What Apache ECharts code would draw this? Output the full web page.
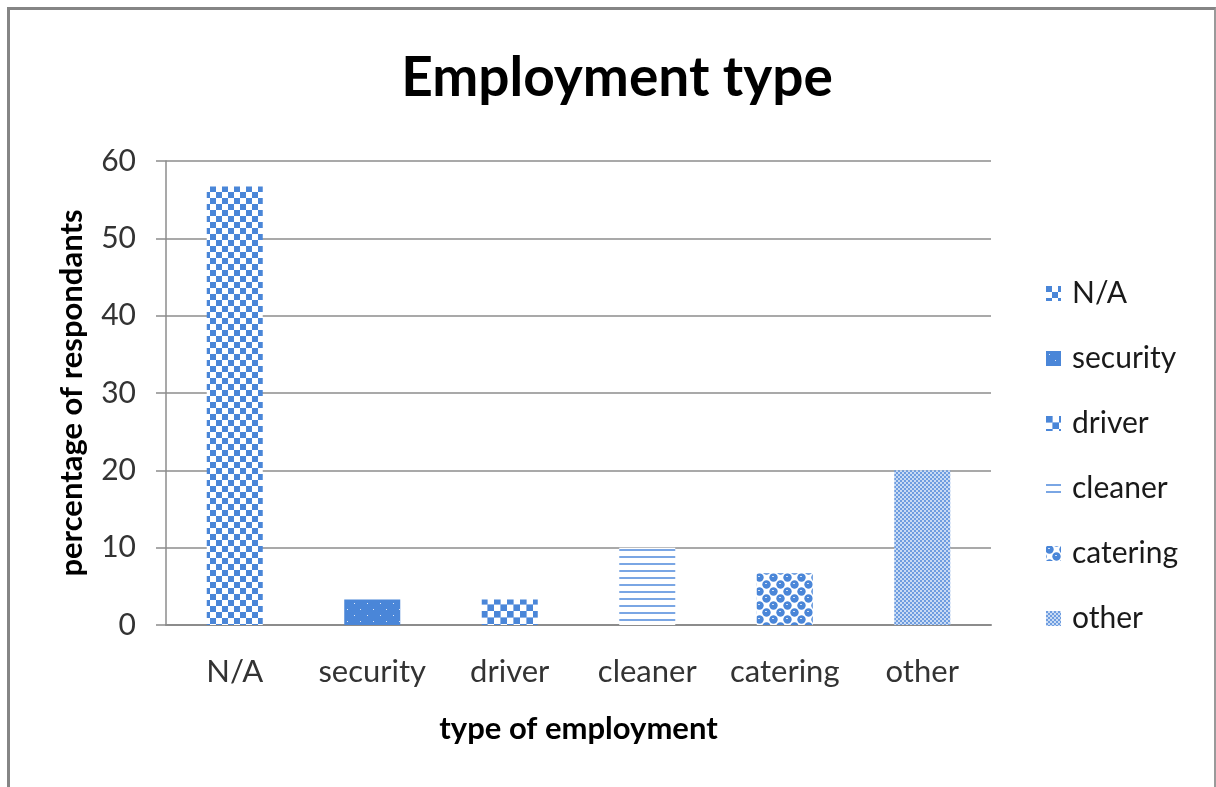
<!DOCTYPE html>
<html>
<head>
<meta charset="utf-8">
<script src="https://cdn.jsdelivr.net/npm/echarts@6/dist/echarts.min.js"></script>
<style>
html,body{margin:0;padding:0;background:#fff;}
#chart{width:1216px;height:787px;position:relative;}
#frame{position:absolute;left:7px;top:7px;width:1204px;height:820px;border-left:3px solid #858585;border-top:3px solid #858585;border-right:2px solid #9a9a9a;pointer-events:none;}
</style>
</head>
<body>
<div style="position:relative;width:1216px;height:787px;overflow:hidden;">
<div id="chart"></div>
<div id="frame"></div>
</div>
<script>
const title = 'Employment type';
const categories = ['N/A', 'security', 'driver', 'cleaner', 'catering', 'other'];
const values = [56.7, 3.3, 3.3, 10, 6.7, 20];
const yTicks = [0, 10, 20, 30, 40, 50, 60];
const xName = 'type of employment';
const yName = 'percentage of respondants';

const B = '#4a86d8';
function tile(w, h, draw) {
  const c = document.createElement('canvas');
  c.width = w; c.height = h;
  const g = c.getContext('2d');
  draw(g, w, h);
  return { image: c, repeat: 'repeat' };
}
const patterns = [
  tile(12, 12, (g) => { g.fillStyle = '#fff'; g.fillRect(0,0,12,12); g.fillStyle = B; g.fillRect(0,0,6,6); g.fillRect(6,6,6,6); }),
  tile(13, 12, (g) => { g.fillStyle = B; g.fillRect(0,0,13,12); g.fillStyle = '#dfe9f8'; g.fillRect(3,3,1,1); g.fillRect(9,9,1,1); }),
  tile(13, 13, (g) => { g.fillStyle = '#fff'; g.fillRect(0,0,13,13); g.fillStyle = '#8fb4e8'; g.fillRect(0,0,7,7); g.fillRect(6,6,7,7); g.fillStyle = B; g.fillRect(0,0,6,6); g.fillRect(7,7,6,6); }),
  tile(8, 7, (g) => { g.fillStyle = '#fff'; g.fillRect(0,0,8,7); g.fillStyle = '#7aa6e4'; g.fillRect(0,3,8,2); }),
  tile(14, 14, (g) => { g.fillStyle = '#fff'; g.fillRect(0,0,14,14); g.fillStyle = B;
    [[3.5,3.5],[10.5,10.5],[10.5,-3.5],[-3.5,10.5],[17.5,3.5],[3.5,17.5]].forEach(p => { g.beginPath(); g.arc(p[0], p[1], 4.2, 0, Math.PI*2); g.fill(); });
    g.fillStyle = '#cfe0f7'; g.fillRect(2,2,2,1); g.fillRect(9,9,2,1); }),
  tile(4, 4, (g) => { g.fillStyle = '#c9dbf4'; g.fillRect(0,0,4,4); g.fillStyle = '#6e9de0'; g.fillRect(0,0,2,2); g.fillRect(2,2,2,2); })
];

const series = categories.map((c, i) => ({
  name: c,
  type: 'bar',
  stack: 'all',
  barWidth: 56,
  itemStyle: { color: patterns[i] },
  data: categories.map((_, j) => j === i ? values[i] : '-')
}));

const chart = echarts.init(document.getElementById('chart'), null, { renderer: 'canvas' });
chart.setOption({
  animation: false,
  backgroundColor: '#fff',
  title: { text: title, left: 612, top: 46, textAlign: 'center',
    textStyle: { fontFamily: 'Lato', fontWeight: 'bold', fontSize: 55, color: '#000' } },
  grid: { left: 166, right: 225, top: 161, bottom: 162, containLabel: false },
  legend: {
    orient: 'vertical', left: 1041, top: 273,
    itemWidth: 15, itemHeight: 15, itemGap: 34,
    icon: 'rect',
    textStyle: { fontFamily: 'Lato', fontSize: 30, color: '#1a1a1a', lineHeight: 31, padding: [0, 0, 0, 6] },
    data: categories
  },
  xAxis: {
    type: 'category', data: categories,
    name: xName, nameLocation: 'middle', nameGap: 88,
    nameTextStyle: { fontFamily: 'Lato', fontWeight: 'bold', fontSize: 31, color: '#000' },
    axisLine: { lineStyle: { color: '#8c8c8c', width: 2 } },
    axisTick: { show: false },
    axisLabel: { interval: 0, fontFamily: 'Lato', fontSize: 31, color: '#333', margin: 31 }
  },
  yAxis: {
    type: 'value', min: 0, max: 60, interval: 10,
    name: yName, nameLocation: 'middle', nameGap: 79, nameRotate: 90,
    nameTextStyle: { fontFamily: 'Lato', fontWeight: 'bold', fontSize: 31, color: '#000' },
    axisLine: { show: true, lineStyle: { color: '#8c8c8c', width: 1.5 } },
    axisTick: { show: true, length: 10, lineStyle: { color: '#8c8c8c', width: 1.5 } },
    splitLine: { lineStyle: { color: '#8c8c8c', width: 1.5 } },
    axisLabel: { fontFamily: 'Lato', fontSize: 30, color: '#333', margin: 30,
      formatter: v => yTicks.includes(v) ? String(v) : '' }
  },
  series: series
});
</script>
</body>
</html>
